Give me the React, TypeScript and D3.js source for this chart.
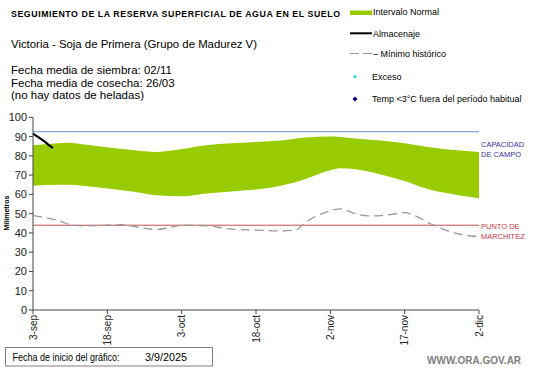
import React from "react";
import * as d3 from "d3";

const bandDays = [0, 5, 7, 10, 15, 20, 25, 30, 35, 40, 45, 50, 55, 60, 62, 65, 70, 75, 80, 85, 90];
const bandUpper = [85.5, 86.5, 86.8, 86, 84.5, 83, 82, 83.5, 85.5, 86.5, 87.2, 88, 89.5, 90, 89.8, 89, 88, 86.5, 84.5, 83, 82];
const bandLower = [64.5, 65, 65, 64.5, 63, 61.5, 59.5, 59, 60.5, 61.5, 62.5, 64.5, 68, 72.5, 73.5, 73, 70.5, 67, 62.5, 60, 58];

const minDays = [0, 5, 8, 10, 15, 18, 20, 25, 28, 30, 35, 40, 45, 50, 53, 55, 60, 62, 65, 68, 72, 75, 77, 80, 85, 90];
const minValues = [49, 46.5, 44, 43.7, 44, 44.3, 43.5, 41.8, 43, 44, 43.7, 42, 41.5, 41, 41.5, 45.5, 51.5, 52.5, 50, 48.8, 49.5, 50.5, 49, 45, 40, 38];

const storeDays = [0, 1, 2, 3, 4];
const storeValues = [91.5, 89.8, 88, 86, 84];

const capacidad = 92.5;
const marchitez = 44;

const xTickDays = [0, 15, 30, 45, 60, 75, 90];
const xTickLabels = ["3-sep", "18-sep", "3-oct", "18-oct", "2-nov", "17-nov", "2-dic"];
const yTicks = [0, 10, 20, 30, 40, 50, 60, 70, 80, 90, 100];

const legendItems = ["Intervalo Normal", "Almacenaje", "– Mínimo histórico", "Exceso", "Temp <3°C fuera del período habitual"];

export default function App() {
  const x = d3.scaleLinear().domain([0, 90]).range([33, 479]);
  const y = d3.scaleLinear().domain([0, 100]).range([310, 117.3]);

  const bandData = bandDays.map((d, i) => ({ d, lo: bandLower[i], hi: bandUpper[i] }));
  const area = d3
    .area<{ d: number; lo: number; hi: number }>()
    .x((p) => x(p.d))
    .y0((p) => y(p.lo))
    .y1((p) => y(p.hi))
    .curve(d3.curveMonotoneX);
  const line = d3
    .line<[number, number]>()
    .x((p) => x(p[0]))
    .y((p) => y(p[1]))
    .curve(d3.curveMonotoneX);
  const minPath = line(minDays.map((d, i) => [d, minValues[i]]));
  const storePath = line(storeDays.map((d, i) => [d, storeValues[i]]));

  const font = "'Liberation Sans', Arial, sans-serif";
  const lx = 350;

  return (
    <svg width={541} height={368} style={{ position: "absolute", left: 0, top: 0, background: "#fff" }} fontFamily={font}>
      <rect width={541} height={368} fill="#fff" />
      <text x={11} y={16.5} fontSize={8.8} fontWeight="bold" fill="#000" textLength={329} lengthAdjust="spacing">
        SEGUIMIENTO DE LA RESERVA SUPERFICIAL DE AGUA EN EL SUELO
      </text>
      <text x={11} y={48} fontSize={11.5} fill="#000" textLength={246} lengthAdjust="spacingAndGlyphs">
        Victoria - Soja de Primera (Grupo de Madurez V)
      </text>
      <text x={11} y={74} fontSize={11.5} fill="#000">Fecha media de siembra: 02/11</text>
      <text x={11} y={86.5} fontSize={11.5} fill="#000">Fecha media de cosecha: 26/03</text>
      <text x={11} y={99} fontSize={11.5} fill="#000">(no hay  datos de heladas)</text>

      {/* legend */}
      <rect x={lx} y={10.5} width={22} height={4.5} fill="#99cc00" />
      <text x={373} y={15} fontSize={9} fill="#000">{legendItems[0]}</text>
      <line x1={lx} x2={372} y1={33.3} y2={33.3} stroke="#000" strokeWidth={2} />
      <text x={373} y={37} fontSize={9} fill="#000">{legendItems[1]}</text>
      <line x1={lx} x2={372} y1={53.5} y2={53.5} stroke="#999" strokeWidth={1.2} strokeDasharray="9,4" />
      <text x={373} y={57} fontSize={9} fill="#000">{legendItems[2]}</text>
      <circle cx={355} cy={76.7} r={1.6} fill="#33ccee" />
      <text x={372} y={80} fontSize={9} fill="#000">{legendItems[3]}</text>
      <path d="M355,96.5 L357.5,99 L355,101.5 L352.5,99 Z" fill="#000080" />
      <text x={372} y={102} fontSize={9} fill="#000">{legendItems[4]}</text>

      {/* band */}
      <path d={area(bandData) || ""} fill="#99cc00" />

      {/* reference lines */}
      <line x1={x(0)} x2={x(90)} y1={y(capacidad)} y2={y(capacidad)} stroke="#6a8ccc" strokeWidth={1} />
      <line x1={x(0)} x2={x(90)} y1={y(marchitez)} y2={y(marchitez)} stroke="#c0504d" strokeWidth={1} />
      <text x={481} y={147} fontSize={7.5} fill="#3333aa">CAPACIDAD</text>
      <text x={481} y={157} fontSize={7.5} fill="#3333aa">DE  CAMPO</text>
      <text x={481} y={229} fontSize={7.5} fill="#cc3344">PUNTO  DE</text>
      <text x={481} y={238.5} fontSize={7.5} fill="#cc3344">MARCHITEZ</text>

      {/* min historic */}
      <path d={minPath || ""} fill="none" stroke="#999" strokeWidth={1.3} strokeDasharray="9,5" />
      {/* storage */}
      <path d={storePath || ""} fill="none" stroke="#000" strokeWidth={2.2} />

      {/* y axis */}
      <line x1={33} x2={33} y1={y(100)} y2={y(0)} stroke="#444" strokeWidth={1} />
      {yTicks.map((t) => (
        <g key={t}>
          <line x1={29} x2={33} y1={y(t)} y2={y(t)} stroke="#444" />
          <text x={27} y={y(t) + 4} fontSize={11} textAnchor="end" fill="#222">{t}</text>
        </g>
      ))}
      <text transform={`translate(9,213) rotate(-90)`} fontSize={7} fontWeight="bold" textAnchor="middle" fill="#000">
        Milímetros
      </text>

      {/* x axis */}
      <line x1={x(0)} x2={x(90)} y1={y(0)} y2={y(0)} stroke="#444" strokeWidth={1} />
      {xTickDays.map((d, i) => (
        <g key={d}>
          <line x1={x(d)} x2={x(d)} y1={y(0)} y2={y(0) + 4} stroke="#444" />
          <text
            transform={`translate(${x(d) + 3.5},${y(0) + 5}) rotate(-90)`}
            fontSize={10}
            textAnchor="end"
            fill="#222"
          >
            {xTickLabels[i]}
          </text>
        </g>
      ))}

      {/* bottom box */}
      <rect x={5.5} y={347.5} width={207} height={18.5} fill="#fff" stroke="#8c7b7b" strokeWidth={1} />
      <text x={12.5} y={361} fontSize={11} fill="#000" textLength={107} lengthAdjust="spacingAndGlyphs">
        Fecha de inicio del gráfico:
      </text>
      <text x={145} y={361} fontSize={11} fill="#000" textLength={42} lengthAdjust="spacingAndGlyphs">
        3/9/2025
      </text>

      <text x={427} y={364} fontSize={10} fontWeight="bold" fill="#808080">WWW.ORA.GOV.AR</text>
    </svg>
  );
}
